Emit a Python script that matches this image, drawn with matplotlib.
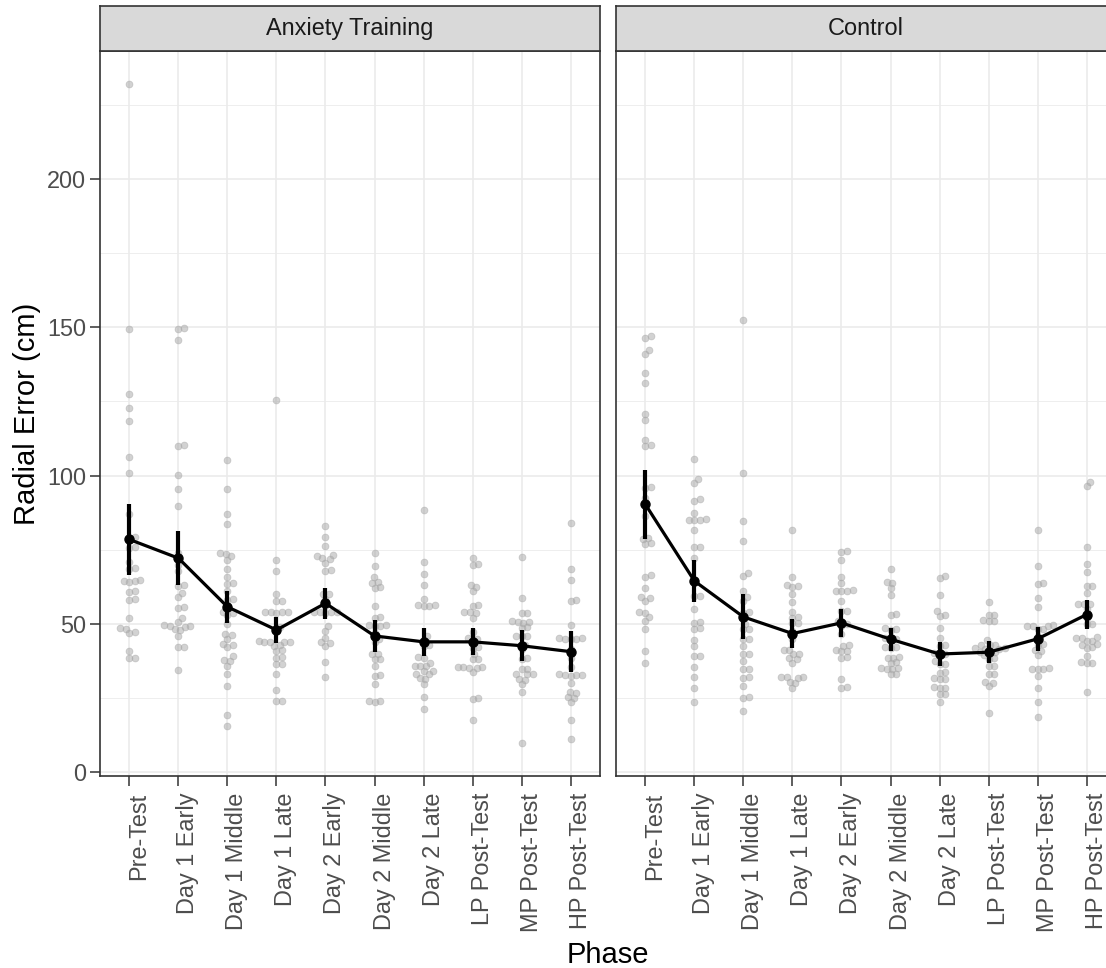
"""Radial error per training phase, one panel per group (ggplot-like facets)."""

import matplotlib.pyplot as plt
import numpy as np
from matplotlib import transforms

# Output size in pixels, saved at 100 dpi.
FIG_W, FIG_H = 1106, 968
DPI = 100

FONT = "Liberation Sans"
GRID_COLOR = "#EBEBEB"
BORDER_COLOR = "#333333"
DOT_COLOR = "#A6A6A6"

GROUPS = ["Anxiety Training", "Control"]
PHASES = ["Pre-Test", "Day 1 Early", "Day 1 Middle", "Day 1 Late",
          "Day 2 Early", "Day 2 Middle", "Day 2 Late", "LP Post-Test",
          "MP Post-Test", "HP Post-Test"]

# Individual radial errors (cm), one list per phase.
anxiety_values = [
    [232, 149.3, 127.6, 122.7, 118.5, 106.3, 101.0, 87.2, 79.5, 79.0, 76.0,
     75.5, 70.8, 68.9, 68.5, 64.8, 64.6, 64.4, 64.2, 61.0, 60.7, 58.5, 58.2,
     52.2, 48.6, 48.4, 47.3, 47.0, 41.0, 38.6, 38.4],
    [149.8, 149.5, 145.6, 110.3, 110.0, 100.1, 95.6, 89.8, 74.0, 70.0, 67.9,
     63.3, 62.9, 60.6, 59.2, 55.8, 55.4, 52.2, 50.7, 49.6, 49.4, 49.2, 49.0,
     48.2, 47.9, 46.1, 42.4, 42.2, 34.5],
    [105.2, 95.6, 87.2, 83.6, 74.1, 73.5, 73.0, 71.6, 68.7, 65.7, 63.8, 63.4,
     61.2, 58.6, 58.2, 54.2, 53.8, 53.0, 50.0, 46.8, 46.4, 45.1, 43.3, 43.1,
     42.3, 39.1, 38.0, 37.6, 35.9, 33.1, 29.0, 19.3, 15.7],
    [125.5, 71.5, 67.9, 60.1, 57.9, 57.7, 54.2, 54.1, 54.0, 53.9, 53.8, 49.0,
     47.5, 44.2, 44.1, 44.0, 43.9, 43.8, 42.8, 42.6, 41.1, 40.9, 38.8, 38.6,
     36.6, 36.4, 33.1, 27.8, 24.2, 23.9],
    [83.0, 79.5, 76.3, 73.4, 73.0, 72.2, 72.0, 70.7, 68.2, 68.0, 60.2, 60.0,
     58.5, 56.0, 54.2, 54.1, 54.0, 53.9, 53.8, 49.4, 47.7, 45.4, 43.9, 43.7,
     42.7, 37.1, 32.2],
    [73.8, 69.6, 65.7, 64.2, 63.8, 62.5, 62.1, 56.1, 52.4, 52.0, 49.8, 49.6,
     49.4, 49.2, 47.0, 45.0, 43.8, 40.0, 39.8, 38.3, 38.1, 35.9, 32.7, 32.5,
     29.7, 24.0, 23.9, 23.8],
    [88.4, 71.0, 66.8, 63.2, 58.4, 56.5, 56.3, 56.2, 56.0, 46.0, 44.5, 42.8,
     42.6, 38.8, 38.6, 37.0, 36.0, 35.9, 35.8, 34.3, 34.1, 33.2, 33.0, 31.7,
     31.5, 29.7, 25.3, 21.3],
    [72.4, 70.4, 70.0, 63.0, 62.6, 61.2, 56.4, 56.2, 54.2, 54.0, 53.8, 52.2,
     47.2, 45.2, 45.0, 44.0, 42.2, 42.0, 39.9, 38.3, 38.1, 35.6, 35.5, 35.4,
     35.3, 35.2, 33.9, 25.1, 24.9, 17.7],
    [72.7, 58.9, 53.8, 53.6, 50.9, 50.8, 50.6, 50.5, 48.9, 48.7, 46.1, 46.0,
     45.9, 43.0, 41.5, 38.5, 38.3, 34.9, 34.7, 33.2, 33.1, 33.0, 31.5, 31.3,
     29.7, 27.2, 9.9],
    [84.0, 68.7, 64.8, 58.1, 57.9, 49.6, 45.3, 45.2, 45.1, 45.0, 44.9, 41.5,
     38.7, 35.6, 33.0, 32.9, 32.8, 32.7, 32.6, 30.3, 27.1, 26.9, 25.4, 25.2,
     23.6, 17.7, 11.4],
]
control_values = [
    [147.0, 146.5, 142.5, 141.0, 134.7, 131.3, 120.7, 118.6, 111.9, 110.5,
     110.0, 96.2, 95.8, 92.6, 86.4, 79.0, 78.6, 77.2, 76.9, 66.4, 66.0, 62.3,
     59.0, 58.8, 57.8, 54.0, 53.8, 52.5, 51.0, 48.3, 41.0, 37.0],
    [105.5, 99.0, 97.5, 92.0, 91.6, 87.5, 85.3, 85.2, 85.0, 84.9, 81.7, 76.1,
     75.9, 72.4, 64.0, 59.6, 59.4, 55.0, 50.6, 50.4, 48.6, 48.4, 44.7, 42.7,
     39.4, 39.2, 35.6, 32.0, 28.6, 23.6],
    [152.4, 100.8, 84.8, 78.0, 67.3, 66.3, 61.2, 59.2, 57.8, 54.0, 53.8, 50.0,
     48.4, 48.2, 45.0, 44.8, 42.7, 40.0, 39.8, 37.6, 34.9, 34.7, 32.1, 31.9,
     29.2, 25.4, 25.2, 20.8],
    [81.7, 65.7, 63.0, 62.8, 62.6, 60.1, 57.5, 54.2, 52.3, 52.1, 50.4, 50.2,
     47.5, 44.9, 41.3, 41.1, 40.0, 39.8, 38.5, 38.3, 37.0, 32.2, 32.1, 32.0,
     31.9, 30.4, 30.2, 28.6],
    [74.6, 74.2, 71.6, 66.0, 63.8, 61.4, 61.3, 61.1, 61.0, 57.8, 54.5, 54.3,
     51.0, 50.0, 49.5, 46.6, 42.8, 42.6, 41.2, 41.0, 40.8, 38.8, 38.6, 31.6,
     28.7, 28.5],
    [68.7, 64.2, 63.8, 62.0, 59.7, 53.4, 53.2, 48.5, 48.3, 48.1, 45.2, 45.0,
     44.8, 42.3, 42.1, 41.9, 38.9, 38.7, 38.5, 37.1, 36.9, 35.2, 35.1, 34.9,
     34.8, 33.2, 33.0],
    [66.3, 65.6, 59.7, 54.4, 52.9, 52.7, 48.5, 45.4, 42.8, 42.6, 40.1, 39.9,
     39.7, 37.6, 36.6, 36.4, 33.8, 33.6, 31.8, 31.6, 31.4, 28.8, 28.6, 28.4,
     26.5, 26.3, 23.6],
    [57.5, 53.1, 52.9, 51.3, 51.1, 50.9, 44.5, 43.0, 42.9, 42.8, 41.9, 41.8,
     41.7, 41.6, 40.6, 40.5, 40.3, 39.5, 38.5, 38.3, 36.0, 35.8, 33.2, 33.0,
     30.4, 30.2, 29.0, 19.9],
    [81.7, 69.4, 64.0, 63.6, 58.9, 55.6, 49.6, 49.5, 49.4, 49.3, 48.4, 48.2,
     46.0, 43.3, 43.1, 41.1, 40.9, 39.5, 35.1, 35.0, 34.9, 34.8, 32.6, 28.6,
     23.8, 18.8],
    [98.0, 96.5, 76.1, 70.2, 67.6, 62.9, 62.7, 60.6, 56.8, 56.7, 56.6, 55.0,
     52.0, 50.1, 49.9, 45.5, 45.4, 45.3, 44.4, 44.2, 43.3, 43.1, 42.2, 42.0,
     39.3, 37.1, 37.0, 36.9, 27.2],
]

# Group means and error bar half-widths per phase.
anxiety_means = [78.5, 72.2, 55.8, 48.0, 57.0, 46.0, 44.0, 44.0, 42.7, 40.7]
anxiety_errors = [12.0, 9.2, 5.4, 4.4, 5.3, 5.3, 4.8, 4.5, 5.3, 6.8]
control_means = [90.3, 64.5, 52.4, 46.8, 50.4, 44.9, 39.9, 40.5, 45.0, 53.2]
control_errors = [11.5, 7.0, 7.6, 4.8, 4.7, 3.9, 4.2, 3.7, 4.1, 4.9]

Y_TICKS = [0, 50, 100, 150, 200]
Y_MINOR = [25, 75, 125, 175, 225]

# Panel layout in pixels (the right panel runs past the image edge).
PANEL_LEFTS = [100, 616]
PANEL_WIDTH = 500
PANEL_TOP = 51
PANEL_BOTTOM = 776
STRIP_TOP = 6

# Beeswarm spacing between dot centres in pixels.
SWARM_SPACING = 5.6


def swarm_offsets(y_px, spacing):
    """Returns horizontal pixel offsets that keep swarm dots apart."""
    x_off = np.zeros(len(y_px))
    placed = []
    for i in np.argsort(y_px, kind="stable"):
        y = y_px[i]
        near = [(px, py) for px, py in placed if abs(py - y) < spacing]
        cands = [0.0]
        for px, py in near:
            dx = np.sqrt(spacing**2 - (py - y)**2)
            cands += [px - dx, px + dx]
        cands.sort(key=lambda c: (round(abs(c), 6), -c))
        for c in cands:
            if all((c - px)**2 + (y - py)**2 >= spacing**2 - 1e-6
                   for px, py in near):
                x_off[i] = c
                break
        placed.append((x_off[i], y))
    return x_off


def fig_rect(left, top, width, height):
    """Converts a pixel box (from the top-left) to figure fractions."""
    return [left / FIG_W, (FIG_H - top - height) / FIG_H,
            width / FIG_W, height / FIG_H]


plt.rcParams["font.family"] = [FONT, "DejaVu Sans"]
fig = plt.figure(figsize=(FIG_W / DPI, FIG_H / DPI), dpi=DPI)

all_values = np.concatenate([np.concatenate([np.array(v) for v in grp])
                             for grp in (anxiety_values, control_values)])
lo, hi = all_values.min(), all_values.max()
pad = 0.05 * (hi - lo)
y_lim = (lo - pad, hi + pad)
x_lim = (-0.6, len(PHASES) - 0.4)

panel_height = PANEL_BOTTOM - PANEL_TOP
px_per_y = panel_height / (y_lim[1] - y_lim[0])
px_per_x = PANEL_WIDTH / (x_lim[1] - x_lim[0])

panels = [
    (anxiety_values, anxiety_means, anxiety_errors),
    (control_values, control_means, control_errors),
]

for k, (group, (values, means, errors)) in enumerate(zip(GROUPS, panels)):
    left = PANEL_LEFTS[k]
    ax = fig.add_axes(fig_rect(left, PANEL_TOP, PANEL_WIDTH, panel_height))
    ax.set_xlim(*x_lim)
    ax.set_ylim(*y_lim)

    # Individual points as a beeswarm around each phase.
    for i, vals in enumerate(values):
        vals = np.asarray(vals, dtype=float)
        offsets = swarm_offsets(vals * px_per_y, SWARM_SPACING) / px_per_x
        ax.scatter(i + offsets, vals, s=24, facecolor=DOT_COLOR,
                   edgecolor=DOT_COLOR, linewidths=0.6, alpha=0.5, zorder=2)

    x = np.arange(len(PHASES))
    ax.plot(x, means, color="black", lw=2.3, zorder=3)
    ax.vlines(x, np.subtract(means, errors), np.add(means, errors),
              color="black", lw=3.0, zorder=4)
    ax.plot(x, means, "o", color="black", ms=6.5, zorder=5)

    # Axes styling in the spirit of theme_bw.
    ax.set_yticks(Y_TICKS)
    ax.set_yticks(Y_MINOR, minor=True)
    ax.set_xticks(x)
    ax.set_axisbelow(True)
    ax.grid(which="major", color=GRID_COLOR, lw=1.2)
    ax.grid(which="minor", axis="y", color=GRID_COLOR, lw=0.6)
    for spine in ax.spines.values():
        spine.set_color(BORDER_COLOR)
        spine.set_linewidth(1.2)
    ax.tick_params(which="minor", length=0)
    ax.tick_params(which="major", length=7.5, width=1.1, color=BORDER_COLOR,
                   labelcolor="#4D4D4D", labelsize=16.9)
    ax.tick_params(axis="y", pad=2.5)
    ax.tick_params(axis="x", pad=4.5)
    ax.set_xticklabels(PHASES, rotation=90, ha="center", va="top")
    shift = transforms.ScaledTranslation(9.5 / DPI, 0, fig.dpi_scale_trans)
    for label in ax.get_xticklabels():
        label.set_transform(label.get_transform() + shift)
    if k > 0:
        ax.tick_params(axis="y", left=False, labelleft=False)

    # Facet strip on top of the panel.
    strip = fig.add_axes(fig_rect(left, STRIP_TOP, PANEL_WIDTH,
                                  PANEL_TOP - STRIP_TOP))
    strip.set_facecolor("#D9D9D9")
    strip.set_xticks([])
    strip.set_yticks([])
    for spine in strip.spines.values():
        spine.set_color(BORDER_COLOR)
        spine.set_linewidth(1.2)
    strip.text(0.5, 0.5, group, transform=strip.transAxes, ha="center",
               va="center", fontsize=16.9, color="#1A1A1A")

fig.text(608 / FIG_W, 1 - 963 / FIG_H, "Phase", ha="center", va="baseline",
         fontsize=21)
fig.text(27 / FIG_W, 1 - (PANEL_TOP + PANEL_BOTTOM) / 2 / FIG_H,
         "Radial Error (cm)", rotation=90, ha="center", va="center",
         fontsize=21)

fig.savefig("out.png", dpi=DPI)
